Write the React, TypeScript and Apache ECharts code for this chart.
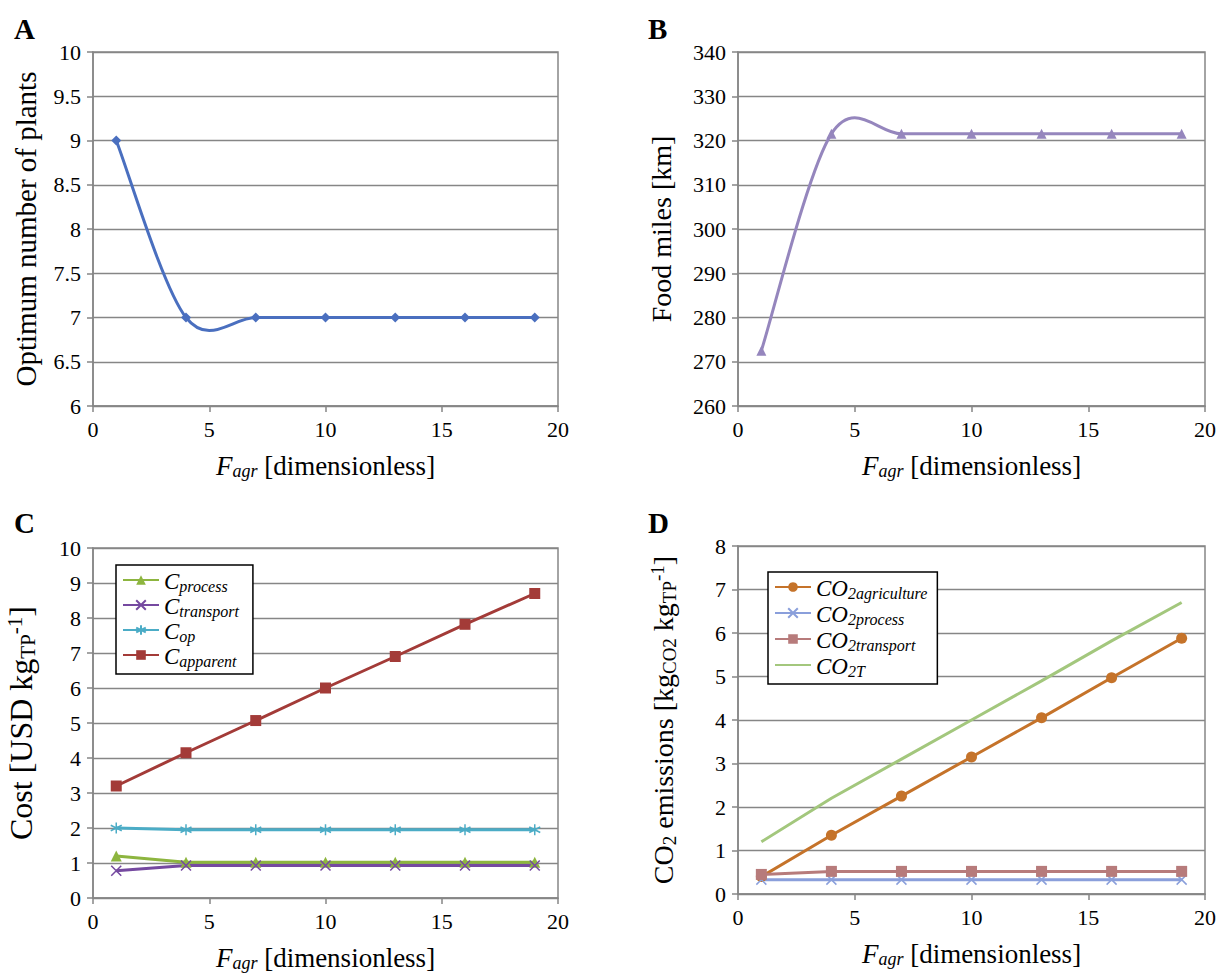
import React, { useEffect, useRef } from "react";
import * as echarts from "echarts";

const X_VALUES = [1, 4, 7, 10, 13, 16, 19];
const X_TICKS = [0, 5, 10, 15, 20];

// Panel A
const optimumPlants = [9, 7, 7, 7, 7, 7, 7];
// Panel B
const foodMiles = [272.5, 321.5, 321.5, 321.5, 321.5, 321.5, 321.5];
// Panel C
const cProcess = [1.2, 1.02, 1.02, 1.02, 1.02, 1.02, 1.02];
const cTransport = [0.78, 0.93, 0.93, 0.93, 0.93, 0.93, 0.93];
const cOp = [2.0, 1.95, 1.95, 1.95, 1.95, 1.95, 1.95];
const cApparent = [3.2, 4.15, 5.07, 6.0, 6.9, 7.82, 8.7];
// Panel D
const co2Agriculture = [0.4, 1.35, 2.25, 3.15, 4.05, 4.97, 5.88];
const co2Process = [0.33, 0.33, 0.33, 0.33, 0.33, 0.33, 0.33];
const co2Transport = [0.45, 0.52, 0.52, 0.52, 0.52, 0.52, 0.52];
const co2Total = [1.2, 2.2, 3.1, 4.0, 4.9, 5.82, 6.7];

const SERIF = "Liberation Serif";
const GRAY = "#868686";

const CROSS = "path://M0,0L10,10M10,0L0,10";
const ASTERISK = "path://M5,0L5,10M0.7,2.5L9.3,7.5M9.3,2.5L0.7,7.5";

const pts = (ys: number[]) => X_VALUES.map((x, i) => [x, ys[i]]);

const xName = "{i|F}{s|agr}{n| [dimensionless]}";
const xNameRich = {
  i: { fontFamily: SERIF, fontStyle: "italic", fontSize: 27, color: "#000" },
  s: { fontFamily: SERIF, fontStyle: "italic", fontSize: 18, color: "#000", verticalAlign: "bottom", padding: [11, 0, 0, 0] },
  n: { fontFamily: SERIF, fontSize: 27, color: "#000" },
};

function xAxis(gridIndex: number) {
  return {
    type: "value",
    gridIndex,
    min: X_TICKS[0],
    max: X_TICKS[X_TICKS.length - 1],
    interval: 5,
    name: xName,
    nameLocation: "middle",
    nameGap: 45,
    nameTextStyle: { fontFamily: SERIF, rich: xNameRich },
    axisLine: { show: true, onZero: false, lineStyle: { color: GRAY, width: 1.5 } },
    axisTick: { show: true, length: 6, lineStyle: { color: GRAY, width: 1.5 } },
    axisLabel: { fontFamily: SERIF, fontSize: 22, color: "#000", margin: 12 },
    splitLine: { show: false },
  };
}

function yAxis(gridIndex: number, min: number, max: number, interval: number, name: string, nameGap: number, nameStyle: any) {
  return {
    type: "value",
    gridIndex,
    min,
    max,
    interval,
    name,
    nameLocation: "middle",
    nameGap,
    nameRotate: 90,
    nameTextStyle: nameStyle,
    axisLine: { show: true, lineStyle: { color: GRAY, width: 1.5 } },
    axisTick: { show: true, length: 6, lineStyle: { color: GRAY, width: 1.5 } },
    axisLabel: { fontFamily: SERIF, fontSize: 22, color: "#000", margin: 12 },
    splitLine: { show: true, lineStyle: { color: GRAY, width: 1.3 } },
  };
}

function lineSeries(name: string, data: number[], idx: number, color: string, symbol: string, symbolSize: number, opts: any = {}) {
  const stroke = symbol.startsWith("path://");
  return {
    type: "line",
    name,
    xAxisIndex: idx,
    yAxisIndex: idx,
    data: pts(data),
    symbol,
    symbolSize,
    showSymbol: symbol !== "none",
    lineStyle: { color, width: 3 },
    itemStyle: stroke
      ? { color, borderColor: color, borderWidth: 1.5 }
      : { color, borderWidth: 0 },
    emphasis: { disabled: true },
    ...opts,
  };
}

// Excel-like smoothed line (Catmull-Rom style Bezier through the data points)
function smoothSeries(data: number[], idx: number, color: string) {
  const n = X_VALUES.length;
  const cl = (k: number) => Math.max(0, Math.min(n - 1, k));
  return {
    type: "custom",
    xAxisIndex: idx,
    yAxisIndex: idx,
    data: pts(data),
    encode: { x: 0, y: 1 },
    z: 1,
    silent: true,
    renderItem: (params: any, api: any) => {
      const i = params.dataIndex;
      if (i >= n - 1) return null;
      const P = (k: number) => api.coord([X_VALUES[cl(k)], data[cl(k)]]);
      const p0 = P(i - 1), p1 = P(i), p2 = P(i + 1), p3 = P(i + 2);
      return {
        type: "bezierCurve",
        shape: {
          x1: p1[0], y1: p1[1], x2: p2[0], y2: p2[1],
          cpx1: p1[0] + (p2[0] - p0[0]) / 6,
          cpy1: p1[1] + (p2[1] - p0[1]) / 6,
          cpx2: p2[0] - (p3[0] - p1[0]) / 6,
          cpy2: p2[1] - (p3[1] - p1[1]) / 6,
        },
        style: { stroke: color, lineWidth: 3, fill: "none" },
      };
    },
  };
}

function markerSeries(data: number[], idx: number, color: string, symbol: string, symbolSize: number) {
  return {
    type: "scatter",
    xAxisIndex: idx,
    yAxisIndex: idx,
    data: pts(data),
    symbol,
    symbolSize,
    z: 3,
    itemStyle: { color, opacity: 1 },
    emphasis: { disabled: true },
  };
}

const legendRich = {
  i: { fontFamily: SERIF, fontStyle: "italic", fontSize: 23, color: "#000" },
  s: { fontFamily: SERIF, fontStyle: "italic", fontSize: 16, color: "#000", verticalAlign: "bottom", padding: [9, 0, 0, 0] },
};

const legendLabels: Record<string, string> = {
  Cprocess: "{i|C}{s|process}",
  Ctransport: "{i|C}{s|transport}",
  Cop: "{i|C}{s|op}",
  Capparent: "{i|C}{s|apparent}",
  CO2agriculture: "{i|CO}{s|2agriculture}",
  CO2process: "{i|CO}{s|2process}",
  CO2transport: "{i|CO}{s|2transport}",
  CO2T: "{i|CO}{s|2T}",
};

const makeRich = (size: number, small: number) => ({
  n: { fontFamily: SERIF, fontSize: size, color: "#000" },
  sub: { fontFamily: SERIF, fontSize: small, color: "#000", verticalAlign: "bottom", padding: [Math.round(size * 0.42), 0, 0, 0] },
  sup: { fontFamily: SERIF, fontSize: small, color: "#000", verticalAlign: "top", padding: [0, 0, Math.round(size * 0.42), 0] },
});

export default function App() {
  const ref = useRef<HTMLDivElement>(null);
  useEffect(() => {
    document.body.style.margin = "0";
    if (!ref.current) return;
    const chart = echarts.init(ref.current, undefined, { renderer: "svg" });
    const letter = (t: string, left: number, top: number) => ({
      type: "text",
      left,
      top,
      style: { text: t, fontFamily: SERIF, fontWeight: "bold", fontSize: 29, fill: "#000" },
    });
    chart.setOption({
      animation: false,
      backgroundColor: "#fff",
      textStyle: { fontFamily: SERIF },
      grid: [
        { left: 93, top: 52, width: 465, height: 354, show: true, borderColor: GRAY, borderWidth: 1.5, backgroundColor: "transparent" },
        { left: 738, top: 52, width: 467, height: 354, show: true, borderColor: GRAY, borderWidth: 1.5, backgroundColor: "transparent" },
        { left: 93, top: 548, width: 465, height: 350, show: true, borderColor: GRAY, borderWidth: 1.5, backgroundColor: "transparent" },
        { left: 738, top: 546, width: 467, height: 348, show: true, borderColor: GRAY, borderWidth: 1.5, backgroundColor: "transparent" },
      ],
      xAxis: [xAxis(0), xAxis(1), xAxis(2), xAxis(3)],
      yAxis: [
        yAxis(0, 6, 10, 0.5, "Optimum number of plants", 53, { fontFamily: SERIF, fontSize: 29, color: "#000" }),
        yAxis(1, 260, 340, 10, "Food miles [km]", 63, { fontFamily: SERIF, fontSize: 28, color: "#000" }),
        yAxis(2, 0, 10, 1, "{n|Cost [USD kg}{sub|TP}{sup|-1}{n|]}", 55, { fontFamily: SERIF, rich: makeRich(32, 21) }),
        yAxis(3, 0, 8, 1, "{n|CO}{sub|2}{n| emissions [kg}{sub|CO2}{n| kg}{sub|TP}{sup|-1}{n|]}", 59, { fontFamily: SERIF, rich: makeRich(28, 19) }),
      ],
      legend: [
        {
          orient: "vertical",
          left: 116,
          top: 565,
          data: ["Cprocess", "Ctransport", "Cop", "Capparent"],
          itemWidth: 36,
          itemHeight: 12,
          itemGap: 1,
          padding: [5, 14, 5, 6],
          borderColor: "#000",
          borderWidth: 1.5,
          backgroundColor: "#fff",
          formatter: (n: string) => legendLabels[n],
          textStyle: { rich: legendRich, height: 22 },
        },
        {
          orient: "vertical",
          left: 768,
          top: 572,
          data: [
            "CO2agriculture",
            "CO2process",
            "CO2transport",
            { name: "CO2T", itemStyle: { color: "rgba(0,0,0,0)", borderWidth: 0 } },
          ],
          itemWidth: 36,
          itemHeight: 12,
          itemGap: 2,
          padding: [5, 10, 5, 6],
          borderColor: "#000",
          borderWidth: 1.5,
          backgroundColor: "#fff",
          formatter: (n: string) => legendLabels[n],
          textStyle: { rich: legendRich, height: 22 },
        },
      ],
      graphic: [letter("A", 14, 14), letter("B", 648, 14), letter("C", 14, 508), letter("D", 648, 508)],
      series: [
        smoothSeries(optimumPlants, 0, "#4a6fbf"),
        markerSeries(optimumPlants, 0, "#4a6fbf", "diamond", 10),
        smoothSeries(foodMiles, 1, "#9586bd"),
        markerSeries(foodMiles, 1, "#9586bd", "triangle", 10),
        lineSeries("Cprocess", cProcess, 2, "#8db53f", "triangle", 11),
        lineSeries("Ctransport", cTransport, 2, "#7549a0", CROSS, 10),
        lineSeries("Cop", cOp, 2, "#4bacc6", ASTERISK, 11),
        lineSeries("Capparent", cApparent, 2, "#a33b38", "rect", 11),
        lineSeries("CO2agriculture", co2Agriculture, 3, "#c5732a", "circle", 11),
        lineSeries("CO2process", co2Process, 3, "#8a9fdb", CROSS, 10),
        lineSeries("CO2transport", co2Transport, 3, "#b77b7b", "rect", 11),
        lineSeries("CO2T", co2Total, 3, "#a3c77d", "none", 0),
      ],
    });
    return () => chart.dispose();
  }, []);
  return <div ref={ref} style={{ width: 1226, height: 979 }} />;
}
